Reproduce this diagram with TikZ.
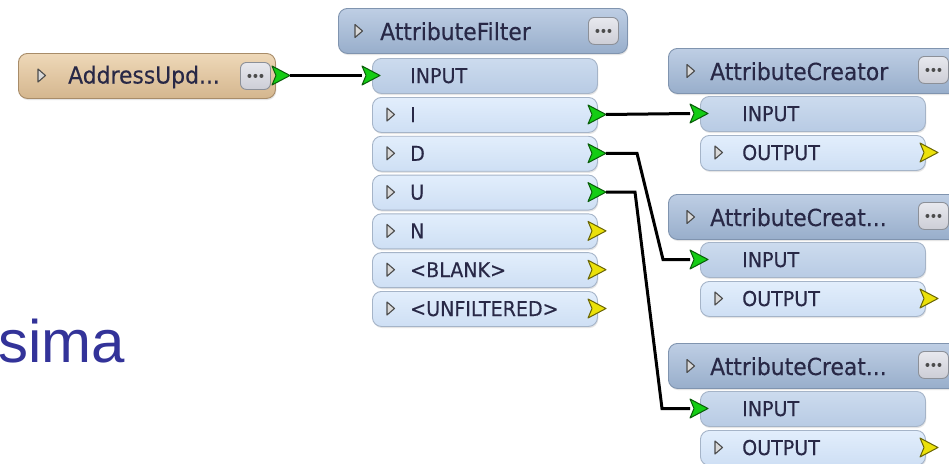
\documentclass[tikz,border=0pt]{standalone}
\usepackage{fontspec}
\setmainfont{Liberation Sans}
\newfontfamily\uifont[FakeStretch=0.93,FakeBold=0.3]{DejaVu Sans}
\usetikzlibrary{calc,shadows}
\definecolor{hdtop}{RGB}{190,206,228}
\definecolor{hdbot}{RGB}{152,174,203}
\definecolor{hdline}{RGB}{128,148,175}
\definecolor{rowtop}{RGB}{226,238,252}
\definecolor{rowbot}{RGB}{206,223,244}
\definecolor{rowline}{RGB}{165,180,200}
\definecolor{intop}{RGB}{204,219,238}
\definecolor{inbot}{RGB}{184,203,228}
\definecolor{tantop}{RGB}{238,216,184}
\definecolor{tanbot}{RGB}{212,182,142}
\definecolor{tanline}{RGB}{168,140,105}
\definecolor{btntop}{RGB}{232,233,238}
\definecolor{btnbot}{RGB}{204,206,214}
\definecolor{btnline}{RGB}{140,144,152}
\definecolor{portgreen}{RGB}{20,205,20}
\definecolor{portyellow}{RGB}{235,225,10}
\definecolor{txt}{RGB}{40,40,70}
\definecolor{simablue}{RGB}{51,51,153}
\newcommand{\trunc}{...}
\newcommand{\porttri}[4]{%
  \draw[fill=#4, draw=#4!45!black, line width=1pt, line join=round]
    (#2,#3-9.5) -- (#2+18,#3) -- (#2,#3+9.5) -- (#2+4,#3) -- cycle;
  \coordinate (#1b) at (#2,#3);
  \coordinate (#1t) at (#2+18,#3);
}
\newcommand{\exptri}[2]{%
  \draw[draw=black!70, fill=black!15, line width=1.1pt, line join=round]
    (#1,#2-6.5) -- (#1+7.5,#2) -- (#1,#2+6.5) -- cycle;
}
\newcommand{\morebtn}[3]{%
  \node[btn] (#1) at (#2,#3) {};
  \foreach \dx in {-6,0,6} {\fill[black!70] ($(#1.center)+(\dx,0)$) circle (2);}
}
\tikzset{
  box/.style={anchor=north west, draw, rounded corners=9pt, line width=0.9pt,
    inner sep=0pt, drop shadow={shadow xshift=0.8pt, shadow yshift=-1.6pt, fill=black!20}},
  header/.style={box, top color=hdtop, bottom color=hdbot, draw=hdline, minimum height=45pt},
  tanbox/.style={box, top color=tantop, bottom color=tanbot, draw=tanline, minimum height=45pt},
  row/.style={box, top color=rowtop, bottom color=rowbot, draw=rowline, minimum height=35pt, minimum width=225pt},
  inrow/.style={box, top color=intop, bottom color=inbot, draw=rowline, minimum height=35pt, minimum width=225pt},
  btn/.style={anchor=north west, draw=btnline, top color=btntop, bottom color=btnbot, rounded corners=6pt,
    line width=0.9pt, minimum width=30pt, minimum height=27pt, inner sep=0pt},
  hlab/.style={anchor=base west, inner sep=0pt, text=txt, font=\uifont\fontsize{23.5}{23.5}\selectfont},
  plab/.style={anchor=base west, inner sep=0pt, text=txt, font=\uifont\fontsize{20.5}{20.5}\selectfont},
  wire/.style={draw=black, line width=3pt, line join=miter}
}
\begin{document}
\begin{tikzpicture}[x=1pt,y=-1pt]
\useasboundingbox (0,0) rectangle (949,463);
\clip (0,0) rectangle (949,463);
\fill[white] (0,0) rectangle (949,463);

% text at left
\node[anchor=base west, inner sep=0pt, text=simablue, font=\fontsize{60}{60}\selectfont] (sima) at (-2,362) {sima};

% AddressUpdater
\node[tanbox, minimum width=257pt] (aup) at (18,53) {};
\exptri{38}{75.5}
\node[hlab] (auplab) at (68,83.5) {AddressUpd\trunc};
\morebtn{aupbtn}{240}{62}
\porttri{aupout}{272}{75.5}{portgreen}

% AttributeFilter
\node[header, minimum width=289pt] (af) at (338,8) {};
\exptri{355}{31}
\node[hlab] (aflab) at (380,40) {AttributeFilter};
\morebtn{afbtn}{588}{17}
\node[inrow] (afIn) at (372,58) {};
\node[plab] (afInlab) at (410,83) {INPUT};
\porttri{afIn}{362}{75.5}{portgreen}
\foreach \nm/\lbl/\k/\pc in {I/I/0/portgreen, D/D/1/portgreen, U/U/2/portgreen,
    N/N/3/portyellow, B/{<BLANK>}/4/portyellow, F/{<UNFILTERED>}/5/portyellow} {
  \pgfmathsetmacro\rt{97+38.8*\k}
  \node[row] (af\nm) at (372,\rt) {};
  \exptri{387}{\rt+17.5}
  \node[plab] (af\nm lab) at (410,\rt+25) {\lbl};
  \porttri{af\nm}{588}{\rt+17.5}{\pc}
}

% AttributeCreators
\foreach \nm/\ttl/\tp in {1/{AttributeCreator}/48, 2/{AttributeCreat\trunc}/194, 3/{AttributeCreat\trunc}/343} {
  \node[header, minimum width=300pt] (ac\nm) at (668,\tp) {};
  \exptri{687}{\tp+23}
  \node[hlab] (ac\nm lab) at (710,\tp+32) {\ttl};
  \morebtn{ac\nm btn}{918}{\tp+8}
  \node[inrow] (ac\nm in) at (700,\tp+48) {};
  \node[plab] (ac\nm inlab) at (742,\tp+73) {INPUT};
  \porttri{ac\nm in}{690}{\tp+65.5}{portgreen}
  \node[row] (ac\nm out) at (700,\tp+87) {};
  \exptri{715}{\tp+104.5}
  \node[plab] (ac\nm outlab) at (742,\tp+112) {OUTPUT};
  \porttri{ac\nm out}{920}{\tp+104.5}{portyellow}
}

% connectors
\draw[wire] (aupoutt) -- (afInb);
\draw[wire] (afIt) -- (ac1inb);
\draw[wire] (afDt) -- ++(31,0) -- ($(ac2inb)+(-27,0)$) -- (ac2inb);
\draw[wire] (afUt) -- ++(29,0) -- ($(ac3inb)+(-28,0)$) -- (ac3inb);
\end{tikzpicture}
\end{document}
